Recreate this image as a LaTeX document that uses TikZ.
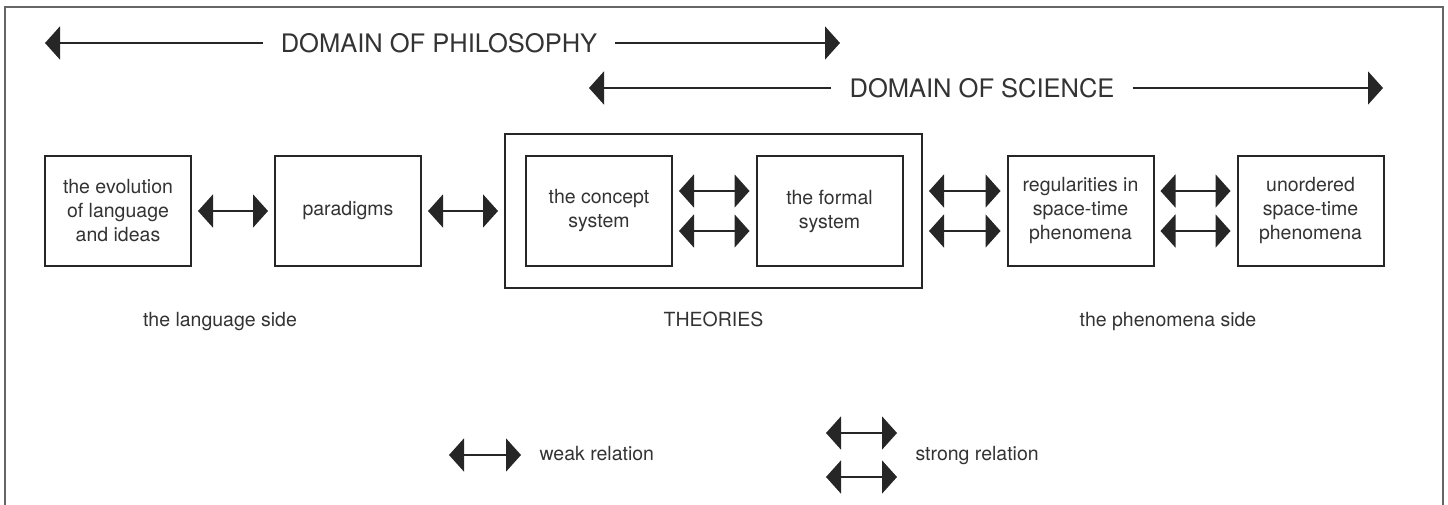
\documentclass[tikz,border=0pt]{standalone}
\usepackage{fontspec}
\setmainfont{TeX Gyre Heros}
\usetikzlibrary{arrows.meta}

\tikzset{
    box/.style={draw=black!85, line width=2pt, minimum width=146pt, minimum height=110pt,
        align=center, text=black!80, font=\fontsize{19.5}{24}\selectfont},
    rel/.style={{Triangle[length=15pt,width=33pt]}-{Triangle[length=15pt,width=33pt]},
        line width=2pt, draw=black!85, shorten <=6pt, shorten >=6pt},
    dom/.style={-{Triangle[length=15pt,width=33pt]}, line width=2pt, draw=black!85},
    domtext/.style={text=black!80, inner xsep=18pt, inner ysep=0pt, font=\fontsize{25.5}{30}\selectfont},
    sidetext/.style={anchor=base, text=black!80, font=\fontsize{19.5}{24}\selectfont},
    legtext/.style={anchor=base west, text=black!80, font=\fontsize{19.5}{24}\selectfont}
}

\begin{document}
\begin{tikzpicture}[x=1pt, y=-1pt]
    \useasboundingbox (0,0) rectangle (1448,505);
    \draw[black!60, line width=1.5pt] (5,505) -- (5,7) -- (1443,7) -- (1443,505);

    % domains
    \coordinate (philL) at (45,43);
    \coordinate (philR) at (840,43);
    \node[domtext] (phil) at (439,43) {DOMAIN OF PHILOSOPHY};
    \draw[dom] (phil.west) -- (philL);
    \draw[dom] (phil.east) -- (philR);
    \coordinate (sciL) at (589,88);
    \coordinate (sciR) at (1383,88);
    \node[domtext] (sci) at (982,88) {DOMAIN OF SCIENCE};
    \draw[dom] (sci.west) -- (sciL);
    \draw[dom] (sci.east) -- (sciR);

    % boxes
    \node[box, minimum width=417pt, minimum height=154pt] (theories) at (713.5,211) {};
    \node[box] (evo) at (118,211) {the evolution\\of language\\and ideas};
    \node[box] (para) at (348,211) {paradigms};
    \node[box] (concept) at (599,211) {the concept\\system};
    \node[box] (formal) at (829.5,211) {the formal\\system};
    \node[box] (regul) at (1080.5,211) {regularities in\\space-time\\phenomena};
    \node[box] (unord) at (1310.5,211) {unordered\\space-time\\phenomena};

    \draw[rel] (evo) -- (para);
    \draw[rel] (para) -- (theories);
    \foreach \a/\b in {concept/formal, theories/regul, regul/unord} {
        \draw[rel] ([yshift=20pt]\a.east) -- ([yshift=20pt]\b.west);
        \draw[rel] ([yshift=-20pt]\a.east) -- ([yshift=-20pt]\b.west);
    }

    \node[sidetext] (langside) at (220,326) {the language side};
    \node[sidetext] (theolabel) at (713.5,326) {THEORIES};
    \node[sidetext] (phenside) at (1168,326) {the phenomena side};

    % legend
    \coordinate (weakL) at (449,455);
    \coordinate (weakR) at (521,455);
    \draw[rel, shorten <=0pt, shorten >=0pt] (weakL) -- (weakR);
    \node[legtext] (weak) at (536,460) {weak relation};
    \coordinate (strongLa) at (826,433);
    \coordinate (strongRa) at (897,433);
    \coordinate (strongLb) at (826,477);
    \coordinate (strongRb) at (897,477);
    \draw[rel, shorten <=0pt, shorten >=0pt] (strongLa) -- (strongRa);
    \draw[rel, shorten <=0pt, shorten >=0pt] (strongLb) -- (strongRb);
    \node[legtext] (strong) at (912,460) {strong relation};
\end{tikzpicture}
\end{document}
